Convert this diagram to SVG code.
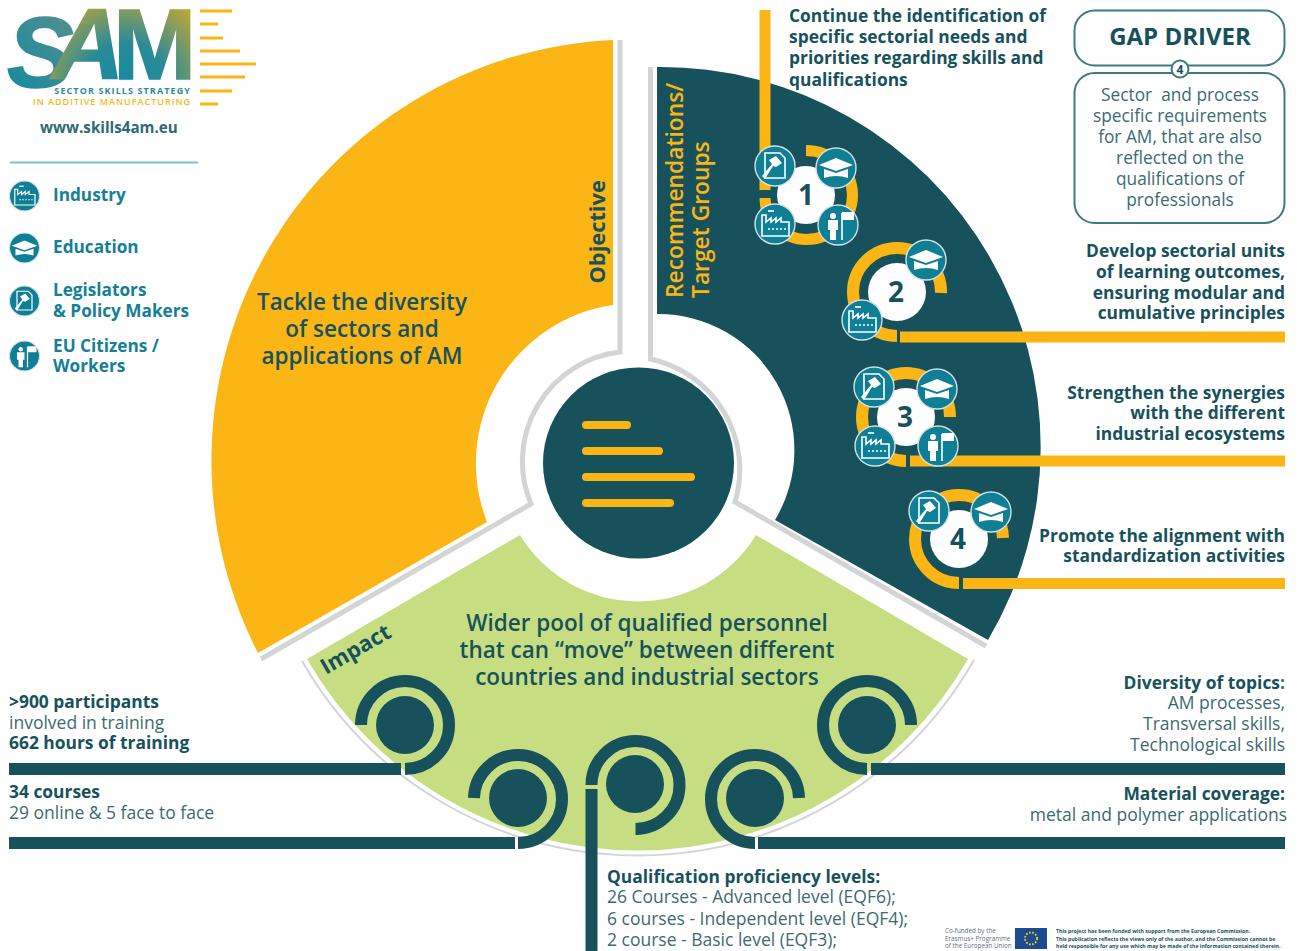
<svg xmlns="http://www.w3.org/2000/svg" width="1301" height="951" viewBox="0 0 1301 951">
<style>
text{font-family:"Open Sans","Noto Sans","Liberation Sans",sans-serif;fill:#17525c}
.b{font-weight:700}.sb{font-weight:600}
.leg{font-size:17.2px;font-weight:700;fill:#147f96}
.side{font-size:17.4px;font-weight:700}
.body{font-size:17.5px;fill:#3d6a72}
.gb{font-size:17.3px;fill:#3d6a72;text-anchor:middle}
.m{text-anchor:middle}.e{text-anchor:end}
.big{font-size:22.5px;font-weight:600;text-anchor:middle}
.num{font-size:28px;font-weight:700;text-anchor:middle}
.gr{fill:none;stroke:#d2d4d6;stroke-width:5}
.yl{fill:none;stroke:#fbb515;stroke-width:11}
.tl{fill:none;stroke:#17525c;stroke-width:12}
.ic{stroke:#fff;stroke-width:1.6;fill:none}
.icf{fill:#fff}
.logo{stroke:#fbb515;stroke-width:3}
</style>
<defs>
<radialGradient id="sam" gradientUnits="userSpaceOnUse" cx="125" cy="85" r="95">
<stop offset="0" stop-color="#178a9e"/><stop offset=".45" stop-color="#2a8a98"/><stop offset="1" stop-color="#b9a63a"/>
</radialGradient>
<linearGradient id="sam2" gradientUnits="userSpaceOnUse" x1="10" y1="80" x2="70" y2="20">
<stop offset="0" stop-color="#1b8a9e"/><stop offset="1" stop-color="#4f8f90"/>
</linearGradient>
<g id="i-ind"><circle r="20" fill="#0f7f96" stroke="#d4e0e3" stroke-width="1.4"/>
<path class="ic" d="M-13 12V-9H-9V-2L-4 -6V-2L1 -6V-2L6 -6V-2L14 -2V12Z"/><path class="ic" d="M-7 -13H-1"/><path class="ic" stroke-dasharray="2 2" d="M-7 5H11"/></g>
<g id="i-edu"><circle r="20" fill="#0f7f96" stroke="#d4e0e3" stroke-width="1.4"/>
<path class="icf" d="M-17 -3L0 -10L17 -3L0 3Z"/><path class="icf" d="M-12 1L0 5L12 1V10Q0 6 -12 10Z"/></g>
<g id="i-leg"><circle r="20" fill="#0f7f96" stroke="#d4e0e3" stroke-width="1.4"/>
<path class="ic" d="M-10 12V-13H5L10 -8V12Z"/><path class="icf" d="M-13 10L-3 -2L-6 -6L1 -10L7 -3L1 1L-2 0L-10 13Z"/></g>
<g id="i-cit"><circle r="20" fill="#0f7f96" stroke="#d4e0e3" stroke-width="1.4"/>
<circle class="icf" cx="-5" cy="-9" r="3"/><path class="icf" d="M-10 -5H0V5H-2V15H-8V5H-10Z"/><path class="ic" d="M4 15V-12"/><path class="icf" d="M4 -13H16V-5H4Z"/></g>
</defs>
<rect width="1301" height="951" fill="#fff"/>

<g id="connectors-grey">
<path class="gr" d="M620 40V352A110 110 0 0 0 531 504L261 659"/>
<path class="gr" d="M650.500 67V359A113 113 0 0 1 735 502L986 646"/>
<path d="M302 661A387 387 0 0 0 974 660" fill="none" stroke="#d2d4d6" stroke-width="2"/>
</g>

<g id="sector-objective"><path d="M613 40A421 421 0 0 0 258 653L487 522A160 160 0 0 1 613 305Z" fill="#fbb515"/>
<text class="big" x="362" y="310">Tackle the diversity</text><text class="big" x="362" y="337">of sectors and</text><text class="big" x="362" y="364">applications of AM</text>
<text class="b" font-size="21.800" transform="translate(605 283.500) rotate(-90)">Objective</text></g>

<g id="sector-recommendations"><path d="M657 67A380 380 0 0 1 988 640L775 520A136 136 0 0 0 657 314Z" fill="#17525c"/>
<text class="sb" font-size="22.800" style="fill:#fbb515" transform="translate(683 298) rotate(-90)">Recommendations/</text>
<text class="sb" font-size="22.800" style="fill:#fbb515" transform="translate(709 298) rotate(-90)">Target Groups</text></g>

<g id="sector-impact"><path d="M307 659L520 535A138 138 0 0 0 756 535L968 659A381 381 0 0 1 307 659Z" fill="#c7dd82"/>
<text class="big" x="647" y="631">Wider pool of qualified personnel</text><text class="big" x="647" y="658">that can “move” between different</text><text class="big" x="647" y="685">countries and industrial sectors</text>
<text class="b" font-size="22" transform="translate(326 675) rotate(-30)">Impact</text></g>

<g id="hub"><circle cx="638.5" cy="463" r="95.5" fill="#17525c"/>
<g stroke="#fbb515" stroke-width="8" stroke-linecap="round"><path d="M586 425H627M586 451H659M586 477H691M586 503H670"/></g></g>

<g id="connectors">
<path class="yl" d="M765 10V190"/>
<path class="yl" d="M806 150.500A46.500 44.500 0 0 1 806 239.500A41 41.500 0 0 1 765 198"/>
<path class="yl" style="stroke-width:12" d="M941 293A44 44 0 1 0 897 336"/>
<path class="yl" d="M900 337H1285"/>
<path class="yl" style="stroke-width:12" d="M950 417A44 44 0 1 0 906 461"/>
<path class="yl" d="M910 461H1285"/>
<path class="yl" style="stroke-width:12" d="M1003 538A44 44 0 1 0 959 583"/>
<path class="yl" d="M963 583.500H1285"/>
<path class="tl" d="M361 725A44 44 0 1 1 405 769"/><path class="tl" d="M9 769H401"/>
<path class="tl" d="M474 798A44 44 0 1 1 518 843"/><path class="tl" d="M9 843H515"/>
<path class="tl" d="M591.500 785A44 44 0 1 1 635.500 829"/><path class="tl" d="M591.500 789V951"/>
<path class="tl" d="M799 798A44 44 0 1 0 755 843"/><path class="tl" d="M758 843H1285"/>
<path class="tl" d="M911 725A44 44 0 1 0 867 769"/><path class="tl" d="M871 769H1285"/>
</g>

<g id="node-1"><circle cx="806" cy="195" r="29" fill="#fff"/><text class="num" x="806" y="205">1</text>
<use href="#i-leg" x="775" y="166"/><use href="#i-edu" x="836" y="168"/><use href="#i-ind" x="775" y="224"/><use href="#i-cit" x="838" y="225"/></g>
<g id="node-2"><circle cx="897" cy="292" r="29" fill="#fff"/><text class="num" x="896" y="302">2</text>
<use href="#i-edu" x="926" y="260"/><use href="#i-ind" x="862" y="320"/></g>
<g id="node-3"><circle cx="906" cy="417" r="29" fill="#fff"/><text class="num" x="905" y="427">3</text>
<use href="#i-leg" x="874" y="387"/><use href="#i-edu" x="937" y="389"/><use href="#i-ind" x="875" y="446"/><use href="#i-cit" x="938" y="446"/></g>
<g id="node-4"><circle cx="959" cy="539" r="29" fill="#fff"/><text class="num" x="958" y="549">4</text>
<use href="#i-leg" x="929" y="511"/><use href="#i-edu" x="991" y="512"/></g>

<g id="impact-1"><circle cx="405" cy="725" r="29" fill="#17525c"/></g>
<g id="impact-2"><circle cx="518" cy="798" r="29" fill="#17525c"/></g>
<g id="impact-3"><circle cx="635" cy="784" r="29" fill="#17525c"/></g>
<g id="impact-4"><circle cx="755" cy="798" r="29" fill="#17525c"/></g>
<g id="impact-5"><circle cx="867" cy="725" r="29" fill="#17525c"/></g>

<g id="logo">
<text font-size="100" font-weight="700" font-style="italic" stroke-width="1.5" style="font-family:'Liberation Sans',sans-serif;fill:url(#sam);stroke:url(#sam)"><tspan x="7" y="87" style="fill:url(#sam2);stroke:url(#sam2)">S</tspan><tspan x="52" y="79">A</tspan><tspan x="113" y="79" font-style="normal">M</tspan></text>
<text x="191" y="93.500" class="e b" font-size="9" letter-spacing="1.100" style="fill:#2a8ba0">SECTOR SKILLS STRATEGY</text>
<text x="191" y="105" class="e sb" font-size="9" letter-spacing="1" style="fill:#fbb515">IN ADDITIVE MANUFACTURING</text>
<g class="logo"><path d="M200 11H232M200 24H218M200 38H223M200 51H240M200 64H256M200 77H245M200 91H232M200 104H218"/></g>
<text x="40" y="133" class="b" font-size="15.200" style="fill:#2f6a75">www.skills4am.eu</text>
</g>

<g id="legend">
<path d="M10 162.500H198" stroke="#7fc0cc" stroke-width="2"/>
<use href="#i-ind" transform="translate(24.500 196) scale(.75)"/><use href="#i-edu" transform="translate(24.500 248) scale(.75)"/><use href="#i-leg" transform="translate(24.500 301) scale(.75)"/><use href="#i-cit" transform="translate(24.500 356) scale(.75)"/>
<text class="leg" x="53" y="201">Industry</text><text class="leg" x="53" y="253">Education</text>
<text class="leg" x="53" y="296">Legislators</text><text class="leg" x="53" y="317">&amp; Policy Makers</text>
<text class="leg" x="53" y="352">EU Citizens /</text><text class="leg" x="53" y="372">Workers</text>
</g>

<g id="gap-driver">
<rect x="1074.500" y="10.500" width="210" height="55" rx="20" fill="#fff" stroke="#3f7a84" stroke-width="2"/>
<rect x="1074.500" y="73" width="210" height="150" rx="20" fill="#fff" stroke="#3f7a84" stroke-width="2"/>
<text class="m b" x="1180" y="45" font-size="24">GAP DRIVER</text>
<circle cx="1180" cy="69" r="8.500" fill="#fff" stroke="#3f7a84" stroke-width="2"/><text class="m b" x="1180" y="74" font-size="12">4</text>
<text class="gb" x="1180" y="101" xml:space="preserve">Sector  and process</text><text class="gb" x="1180" y="122">specific requirements</text><text class="gb" x="1180" y="143">for AM, that are also</text><text class="gb" x="1180" y="164">reflected on the</text><text class="gb" x="1180" y="185">qualifications of</text><text class="gb" x="1180" y="206">professionals</text>
</g>

<g id="labels-right">
<text class="side" x="789" y="22">Continue the identification of</text><text class="side" x="789" y="43">specific sectorial needs and</text><text class="side" x="789" y="64">priorities regarding skills and</text><text class="side" x="789" y="86">qualifications</text>
<text class="side e" x="1285" y="257">Develop sectorial units</text><text class="side e" x="1285" y="277.500">of learning outcomes,</text><text class="side e" x="1285" y="298.500">ensuring modular and</text><text class="side e" x="1285" y="319">cumulative principles</text>
<text class="side e" x="1285" y="398.500">Strengthen the synergies</text><text class="side e" x="1285" y="419">with the different</text><text class="side e" x="1285" y="440">industrial ecosystems</text>
<text class="side e" x="1285" y="541.500">Promote the alignment with</text><text class="side e" x="1285" y="562">standardization activities</text>
</g>

<g id="labels-bottom">
<text class="side" x="9" y="708">&gt;900 participants</text><text class="body" x="9" y="729">involved in training</text><text class="side" x="9" y="749">662 hours of training</text>
<text class="side" x="9" y="798">34 courses</text><text class="body" x="9" y="819">29 online &amp; 5 face to face</text>
<text class="side e" x="1285" y="689">Diversity of topics<tspan class="body">:</tspan></text><text class="body e" x="1285" y="709">AM processes,</text><text class="body e" x="1285" y="730">Transversal skills,</text><text class="body e" x="1285" y="751">Technological skills</text>
<text class="side e" x="1285" y="800">Material coverage:</text><text class="body e" x="1287" y="821">metal and polymer applications</text>
<text class="side" x="607" y="883">Qualification proficiency levels:</text><text class="body" x="607" y="903">26 Courses - Advanced level (EQF6);</text><text class="body" x="607" y="925">6 courses - Independent level (EQF4);</text><text class="body" x="607" y="946">2 course - Basic level (EQF3);</text>
</g>

<g id="footer">
<g font-size="6.300"><text x="945" y="933" style="fill:#5f6f80">Co-funded by the</text><text x="945" y="941" style="fill:#5f6f80">Erasmus+ Programme</text><text x="945" y="948" style="fill:#5f6f80">of the European Union</text></g>
<rect x="1015" y="928" width="32" height="21" fill="#1d4b92"/><circle cx="1031" cy="938.500" r="6" fill="none" stroke="#f5d21a" stroke-width="1.800" stroke-dasharray="1.600 1.600"/>
<g font-size="5.200" font-weight="700"><text x="1056" y="933">This project has been funded with support from the European Commission.</text><text x="1056" y="941">This publication reflects the views only of the author, and the Commission cannot be</text><text x="1056" y="948">held responsible for any use which may be made of the information contained therein.</text></g>
</g>
</svg>
